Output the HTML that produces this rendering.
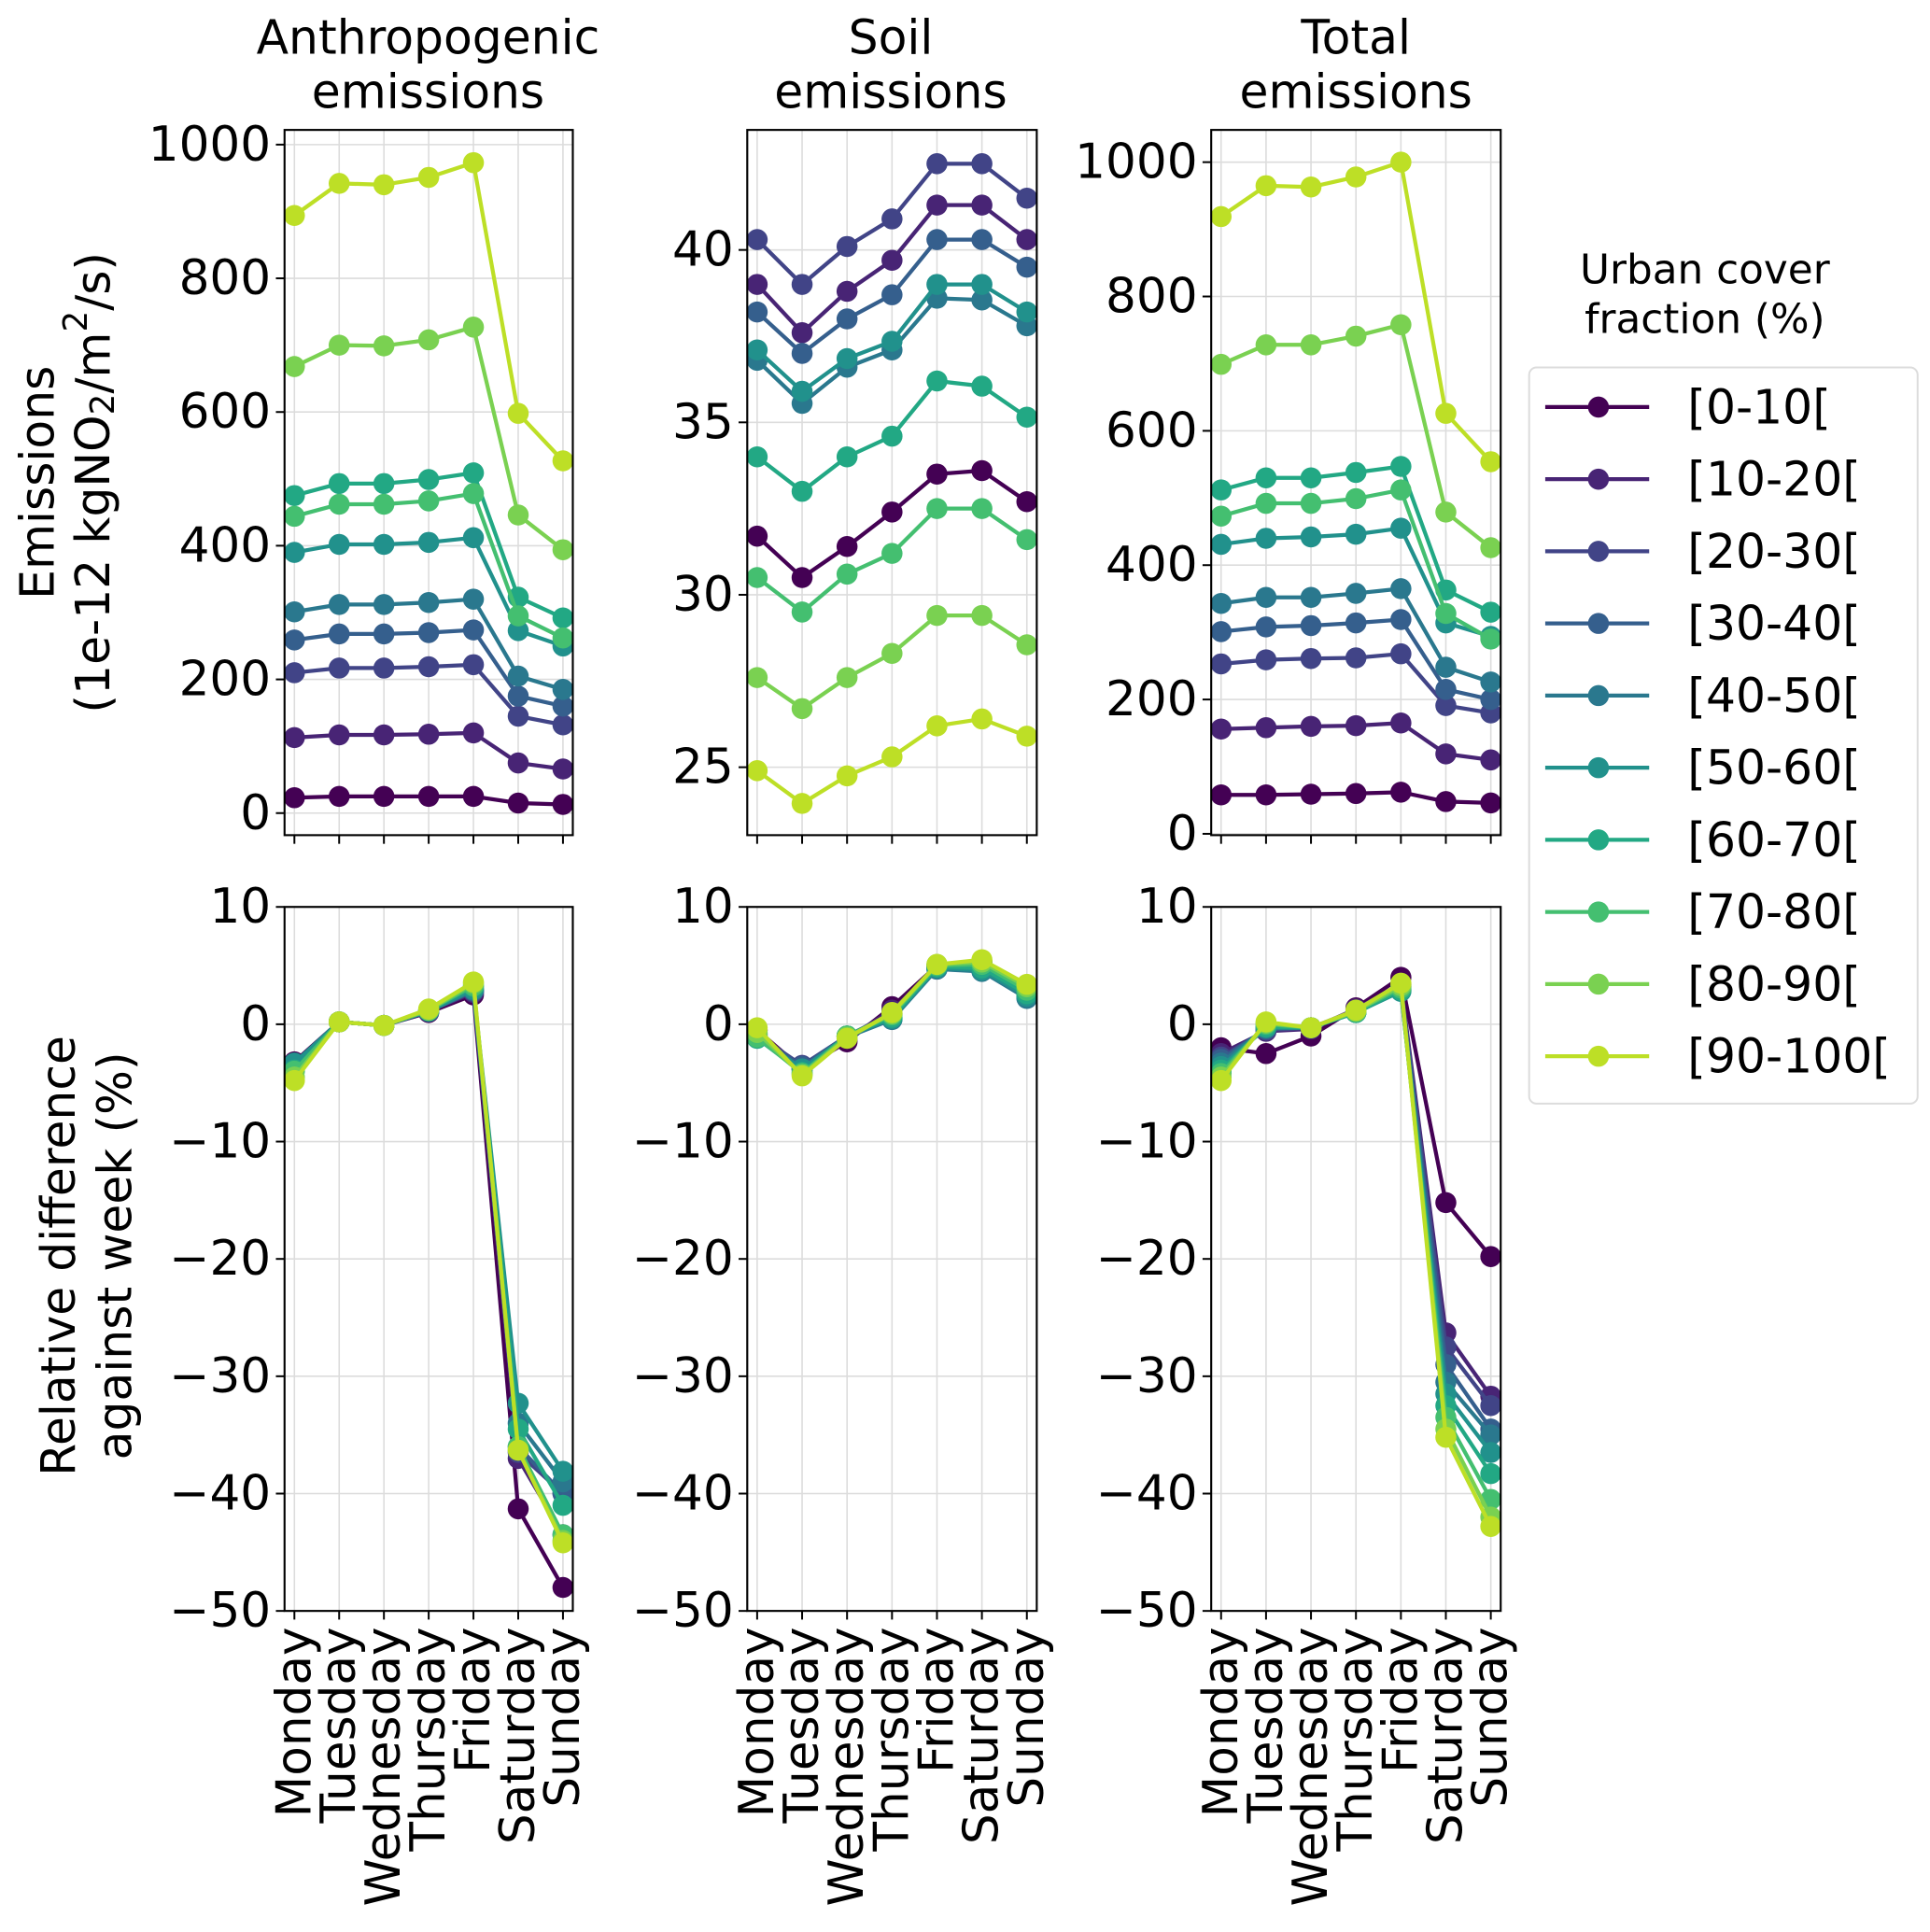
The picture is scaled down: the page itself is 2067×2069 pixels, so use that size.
<!DOCTYPE html>
<html><head><meta charset="utf-8">
<style>
html,body{margin:0;padding:0;background:#fff;}
svg{display:block;}
text{font-family:"DejaVu Sans","Liberation Sans",sans-serif;fill:#000;}
</style></head>
<body>
<svg id="fig" xmlns="http://www.w3.org/2000/svg" width="2067" height="2069" viewBox="0 0 1560 1561.5"></svg>
<script>
const days = ["Monday","Tuesday","Wednesday","Thursday","Friday","Saturday","Sunday"];
const seriesLabels = ["[0-10[","[10-20[","[20-30[","[30-40[","[40-50[","[50-60[","[60-70[","[70-80[","[80-90[","[90-100["];
const colors = ["#440154","#482475","#414487","#355f8d","#2a788e","#21918c","#22a884","#44bf70","#7ad151","#bddf26"];

const anthroValues = [
 [23,25,25,25,25,15,13],
 [113,117,117,118,120,75,66],
 [210,217,217,219,222,145,132],
 [259,268,268,270,274,175,160],
 [301,312,312,315,320,205,185],
 [390,402,402,405,412,273,250],
 [475,493,493,499,509,323,292],
 [444,462,462,467,478,295,262],
 [668,700,699,708,727,446,394],
 [894,942,940,951,973,598,527]];
const soilValues = [
 [31.7,30.5,31.4,32.4,33.5,33.6,32.7],
 [39.0,37.6,38.8,39.7,41.3,41.3,40.3],
 [40.3,39.0,40.1,40.9,42.5,42.5,41.5],
 [38.2,37.0,38.0,38.7,40.3,40.3,39.5],
 [36.8,35.55,36.6,37.1,38.6,38.55,37.8],
 [37.1,35.9,36.85,37.35,39.0,39.0,38.2],
 [34.0,33.0,34.0,34.6,36.2,36.05,35.15],
 [30.5,29.5,30.6,31.2,32.5,32.5,31.6],
 [27.6,26.7,27.6,28.3,29.4,29.4,28.55],
 [24.9,23.95,24.75,25.3,26.2,26.4,25.9]];
const totalValues = [
 [58,58,59,60,62,48,46],
 [156,158,160,161,165,119,110],
 [253,259,261,262,268,191,180],
 [301,308,310,314,319,215,200],
 [343,352,352,358,365,248,226],
 [431,440,442,446,455,314,294],
 [512,530,530,538,547,363,330],
 [473,492,492,499,512,328,290],
 [699,728,728,741,758,479,426],
 [919,965,963,978,1000,626,554]];
const anthroRel = [
 [-3.2,0.2,-0.1,1.0,2.5,-41.3,-48.0],
 [-3.5,0.2,-0.1,1.1,2.7,-37.0,-43.5],
 [-3.5,0.2,-0.1,1.1,2.8,-36.5,-40.0],
 [-3.6,0.2,-0.1,1.1,2.9,-36.0,-40.0],
 [-3.4,0.2,-0.1,1.1,2.9,-34.0,-39.0],
 [-3.3,0.2,-0.1,1.1,3.0,-32.3,-38.1],
 [-3.9,0.2,-0.1,1.2,3.2,-34.5,-41.0],
 [-4.0,0.2,-0.1,1.2,3.3,-36.0,-43.5],
 [-4.5,0.2,-0.1,1.2,3.5,-36.3,-44.0],
 [-4.8,0.2,-0.1,1.3,3.6,-36.3,-44.2]];
const soilRel = [
 [-0.5,-3.8,-1.5,1.5,5.0,5.3,2.5],
 [-0.8,-3.6,-1.2,1.2,4.8,4.9,2.6],
 [-0.9,-3.5,-1.0,0.9,4.7,4.6,2.3],
 [-1.0,-3.6,-1.0,0.8,4.8,4.7,2.4],
 [-1.1,-3.9,-1.1,0.4,4.7,4.5,2.2],
 [-1.1,-3.8,-1.0,0.5,4.8,4.6,2.4],
 [-1.2,-4.1,-1.0,0.6,4.9,4.8,2.6],
 [-1.1,-4.2,-1.0,0.8,5.0,5.1,2.9],
 [-0.7,-4.3,-1.1,0.9,5.1,5.3,3.2],
 [-0.3,-4.4,-1.2,1.0,5.1,5.5,3.4]];
const totalRel = [
 [-2.0,-2.5,-1.0,1.4,4.0,-15.2,-19.8],
 [-2.5,-0.6,-0.4,1.3,3.4,-26.3,-31.7],
 [-2.8,-0.5,-0.3,1.2,3.2,-27.5,-32.5],
 [-3.0,-0.4,-0.3,1.1,3.0,-29.0,-34.5],
 [-3.3,-0.3,-0.3,1.0,2.9,-30.5,-35.0],
 [-3.6,-0.3,-0.3,1.0,2.8,-31.5,-36.5],
 [-3.9,-0.2,-0.3,1.0,2.9,-32.5,-38.3],
 [-4.2,0.0,-0.3,1.1,3.1,-33.5,-40.5],
 [-4.5,0.1,-0.3,1.1,3.3,-34.5,-42.0],
 [-4.8,0.2,-0.3,1.2,3.5,-35.2,-42.8]];
const anthroTicks = [0,200,400,600,800,1000];
const soilTicks = [25,30,35,40];
const totalTicks = [0,200,400,600,800,1000];
const relTicks = [-50,-40,-30,-20,-10,0,10];

const NS="http://www.w3.org/2000/svg";
const svg=document.getElementById('fig');
function el(tag,attrs,parent){const e=document.createElementNS(NS,tag);for(const k in attrs)e.setAttribute(k,attrs[k]);(parent||svg).appendChild(e);return e;}

const FS=39;
const cols=[[230,463],[604,838],[979,1213]];
const rows=[[105,675],[733,1302]];
const panels=[
 {name:'anthropogenic-emissions',c:0,r:0,data:anthroValues,ticks:anthroTicks,ylim:[-33,1022]},
 {name:'soil-emissions',c:1,r:0,data:soilValues,ticks:soilTicks,ylim:[23.03,43.48]},
 {name:'total-emissions',c:2,r:0,data:totalValues,ticks:totalTicks,ylim:[-2,1048]},
 {name:'anthropogenic-relative',c:0,r:1,data:anthroRel,ticks:relTicks,ylim:[-50,10]},
 {name:'soil-relative',c:1,r:1,data:soilRel,ticks:relTicks,ylim:[-50,10]},
 {name:'total-relative',c:2,r:1,data:totalRel,ticks:relTicks,ylim:[-50,10]}];
const xlim=[-0.22,6.22];

panels.forEach(p=>{
  const [x0,x1]=cols[p.c],[y0,y1]=rows[p.r];
  const g=el('g',{});
  
  
  const xs=i=>x0+(i-xlim[0])/(xlim[1]-xlim[0])*(x1-x0);
  const ys=v=>y1-(v-p.ylim[0])/(p.ylim[1]-p.ylim[0])*(y1-y0);
  days.forEach((d,i)=>{el('line',{x1:xs(i),x2:xs(i),y1:y0,y2:y1,stroke:'#dcdcdc','stroke-width':1.2},g);});
  p.ticks.forEach(t=>{el('line',{x1:x0,x2:x1,y1:ys(t),y2:ys(t),stroke:'#dcdcdc','stroke-width':1.2},g);});
  p.ticks.forEach(t=>{
    el('line',{x1:x0-7,x2:x0,y1:ys(t),y2:ys(t),stroke:'#000','stroke-width':1.5},g);
    const tx=el('text',{x:x0-11,y:ys(t),'text-anchor':'end','dominant-baseline':'central','font-size':FS},g);
    tx.textContent=(t<0?'\u2212'+Math.abs(t):String(t));
    
    
  });
  days.forEach((d,i)=>{
    el('line',{x1:xs(i),x2:xs(i),y1:y1,y2:y1+7,stroke:'#000','stroke-width':1.5},g);
    if(p.r===1){
      const tx=el('text',{x:0,y:0,'text-anchor':'end','dominant-baseline':'central','font-size':FS,transform:`translate(${xs(i)},${y1+13}) rotate(-90)`},g);
      tx.textContent=d;
      
      
    }
  });
  p.data.forEach((s,k)=>{
    const sg=el('g',{},g);
    
    
    el('polyline',{points:s.map((v,i)=>xs(i)+','+ys(v)).join(' '),fill:'none',stroke:colors[k],'stroke-width':3.2,'stroke-linejoin':'round'},sg);
    s.forEach((v,i)=>{
      const c=el('circle',{cx:xs(i),cy:ys(v),r:8.5,fill:colors[k]},sg);
      
      
    });
  });
  el('rect',{x:x0,y:y0,width:x1-x0,height:y1-y0,fill:'none',stroke:'#000','stroke-width':1.6},g);
});

function txt(x,y,s,size,name,extra){const t=el('text',Object.assign({x:x,y:y,'text-anchor':'middle','dominant-baseline':'central','font-size':size},extra||{}));t.textContent=s;return t;}
txt(346,30,'Anthropogenic',38,'title-anthropogenic');
txt(346,74,'emissions',38,'title-anthropogenic-2');
txt(720,30,'Soil',38,'title-soil');
txt(720,74,'emissions',38,'title-soil-2');
txt(1096,30,'Total',38,'title-total');
txt(1096,74,'emissions',38,'title-total-2');

const yl1=el('text',{x:0,y:0,'text-anchor':'middle','dominant-baseline':'central','font-size':38,transform:'translate(30,390) rotate(-90)'});
yl1.textContent='Emissions';


const yl2=el('text',{x:0,y:0,'text-anchor':'middle','dominant-baseline':'central','font-size':38,transform:'translate(75,390) rotate(-90)'});
yl2.innerHTML='(1e-12 kgNO<tspan font-size="27" dy="8">2</tspan><tspan dy="-8">/m</tspan><tspan font-size="27" dy="-14">2</tspan><tspan dy="14">/s)</tspan>';


const yl3=el('text',{x:0,y:0,'text-anchor':'middle','dominant-baseline':'central','font-size':38,transform:'translate(47,1015) rotate(-90)'});
yl3.textContent='Relative difference';


const yl4=el('text',{x:0,y:0,'text-anchor':'middle','dominant-baseline':'central','font-size':38,transform:'translate(93,1015) rotate(-90)'});
yl4.textContent='against week (%)';



txt(1378,218,'Urban cover',33,'legend-title');
txt(1378,258,'fraction (%)',33,'legend-title-2');
const lg=el('g',{});


el('rect',{x:1236,y:297,width:314,height:595,rx:6,fill:'#fff',stroke:'#dcdcdc','stroke-width':1.5},lg);
seriesLabels.forEach((s,k)=>{
  const y=329+k*58.3;
  const eg=el('g',{},lg);
  
  
  el('line',{x1:1249,x2:1333,y1:y,y2:y,stroke:colors[k],'stroke-width':3.2},eg);
  el('circle',{cx:1292,cy:y,r:8.5,fill:colors[k]},eg);
  const t=el('text',{x:1364,y:y,'dominant-baseline':'central','font-size':38},eg);
  t.textContent=s;
});
</script>
</body></html>
